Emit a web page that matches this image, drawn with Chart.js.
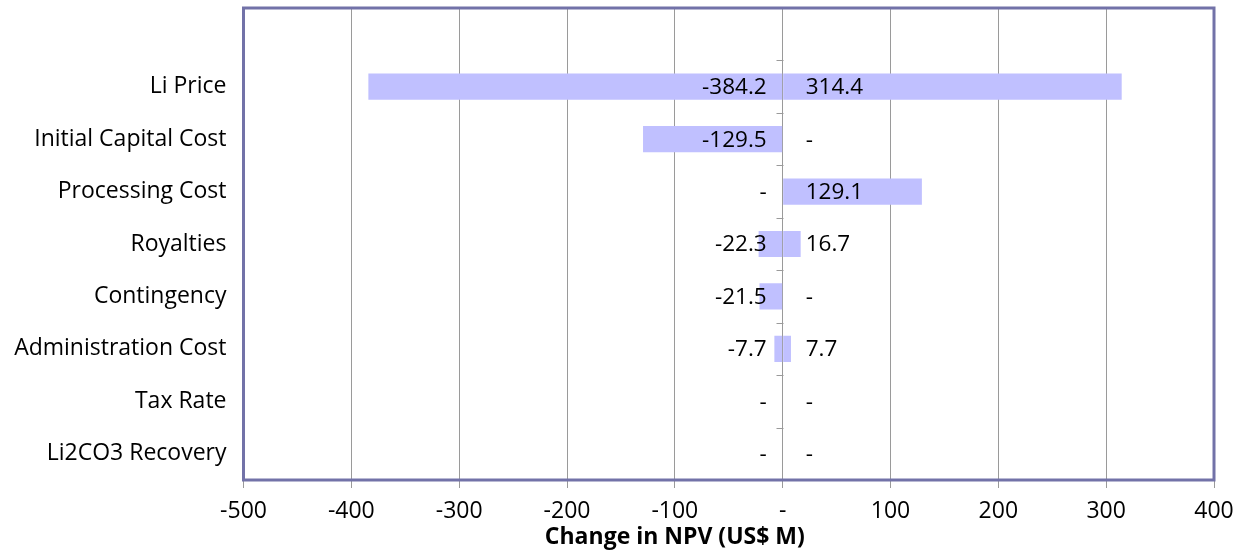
<!DOCTYPE html>
<html>
<head>
<meta charset="utf-8">
<script src="https://cdn.jsdelivr.net/npm/chart.js@4/dist/chart.umd.min.js"></script>
<style>
  html, body { margin: 0; padding: 0; background: #ffffff; }
  #wrap { width: 1241px; height: 551px; }
</style>
</head>
<body>
<div id="wrap"><canvas id="npv" width="1241" height="551"></canvas></div>
<script>
// Sensitivity of NPV to each input (US$ M)
const categories = ['Li Price', 'Initial Capital Cost', 'Processing Cost', 'Royalties',
                    'Contingency', 'Administration Cost', 'Tax Rate', 'Li2CO3 Recovery'];
const downside = [-384.2, -129.5, 0, -22.3, -21.5, -7.7, 0, 0];
const upside   = [314.4, 0, 129.1, 16.7, 0, 7.7, 0, 0];
const xTicks   = [-500, -400, -300, -200, -100, 0, 100, 200, 300, 400];
const axisTitle = 'Change in NPV (US$ M)';

const FONT = "'Open Sans', 'Liberation Sans', sans-serif";
const BAR = '#c0c0ff';
const GRID = '#9a9a9a';
const FRAME = '#7272a8';

// one blank row above the first driver
const rowLabels = [''].concat(categories);
const lowVals = [null].concat(downside);
const highVals = [null].concat(upside);

const fmt = v => v === 0 ? '-' : v.toFixed(1);

const tornadoExtras = {
  id: 'tornadoExtras',
  beforeDatasetsDraw(chart) {
    const { ctx, scales: { x, y } } = chart;
    const x0 = Math.round(x.getPixelForValue(0)) + 0.5;
    const step = y.getPixelForValue(1) - y.getPixelForValue(0);
    ctx.save();
    ctx.strokeStyle = GRID;
    ctx.lineWidth = 1;
    ctx.beginPath();
    for (let i = 0; i < rowLabels.length - 1; i++) {
      const yy = Math.round(y.getPixelForValue(i) + step / 2) + 0.5;
      ctx.moveTo(x0 - 7, yy);
      ctx.lineTo(x0, yy);
    }
    ctx.stroke();
    ctx.restore();
  },
  afterDatasetsDraw(chart) {
    const { ctx, chartArea: a, scales: { x, y } } = chart;
    const x0 = x.getPixelForValue(0);
    ctx.save();
    ctx.font = "22.5px " + FONT;
    ctx.fillStyle = '#000000';
    ctx.textBaseline = 'middle';
    for (let i = 1; i < rowLabels.length; i++) {
      const yy = y.getPixelForValue(i) + 1;
      ctx.textAlign = 'right';
      ctx.fillText(fmt(lowVals[i]), x0 - 16, yy);
      ctx.textAlign = 'left';
      ctx.fillText(fmt(highVals[i]), x0 + 23, yy);
    }
    // plot frame
    ctx.strokeStyle = FRAME;
    ctx.lineWidth = 3;
    ctx.strokeRect(a.left, a.top, a.right - a.left, a.bottom - a.top);
    // axis title
    ctx.font = "bold 23px " + FONT;
    ctx.textAlign = 'center';
    ctx.fillText(axisTitle, x.getPixelForValue(-100), 537);
    ctx.restore();
  }
};

new Chart(document.getElementById('npv'), {
  type: 'bar',
  data: {
    labels: rowLabels,
    datasets: [
      { label: 'Low', data: lowVals, backgroundColor: BAR, borderWidth: 0,
        barPercentage: 0.5, categoryPercentage: 1 },
      { label: 'High', data: highVals, backgroundColor: BAR, borderWidth: 0,
        barPercentage: 0.5, categoryPercentage: 1 }
    ]
  },
  options: {
    indexAxis: 'y',
    responsive: false,
    animation: false,
    layout: { padding: { top: 8, right: 27, left: 0, bottom: 0 } },
    plugins: { legend: { display: false }, tooltip: { enabled: false } },
    scales: {
      x: {
        type: 'linear',
        stacked: true,
        min: xTicks[0],
        max: xTicks[xTicks.length - 1],
        afterBuildTicks: s => { s.ticks = xTicks.map(v => ({ value: v })); },
        afterFit: s => { s.height = 71; s.paddingRight = 0; },
        grid: { color: GRID, lineWidth: 1, tickLength: 8, drawTicks: true },
        border: { display: false },
        ticks: {
          padding: 10,
          color: '#000000',
          font: { family: FONT, size: 23 },
          maxRotation: 0,
          callback: v => v === 0 ? '-' : String(v)
        }
      },
      y: {
        stacked: true,
        afterFit: s => { s.width = 243.5; s.paddingTop = 0; s.paddingBottom = 0; },
        grid: { display: false },
        border: { display: false },
        ticks: {
          padding: 9,
          color: '#000000',
          font: { family: FONT, size: 23 }
        }
      }
    }
  },
  plugins: [tornadoExtras]
});
</script>
</body>
</html>
